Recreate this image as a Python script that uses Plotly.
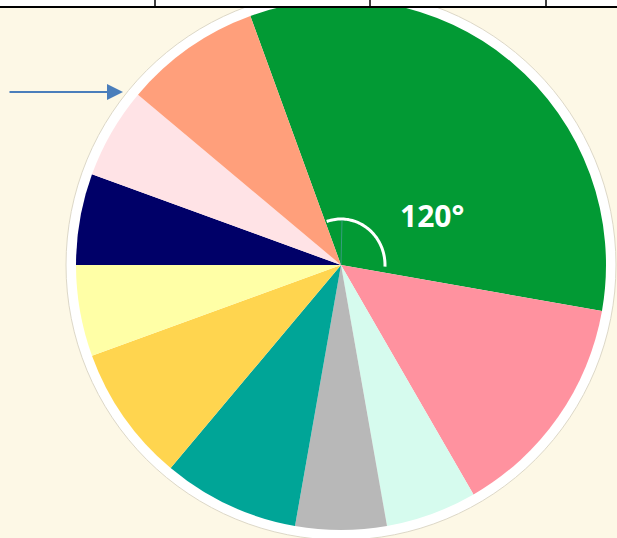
import numpy as np
import plotly.graph_objects as go

W, H = 617, 538

# ---- data ----
categories = ["A", "B", "C", "D", "E", "F", "G", "H", "I", "J"]
degrees = [120, 50, 20, 20, 30, 30, 20, 20, 20, 30]
colors = ["#029A34", "#FF929F", "#D6FBEE", "#B8B8B8", "#00A597",
          "#FFD54F", "#FFFFA6", "#000068", "#FFE3E6", "#FF9F7B"]
angle_label = "120°"

def px(x):
    return x / W

def py(y):
    return 1 - y / H

cx, cy, r = 341, 265, 265

fig = go.Figure()
fig.add_trace(go.Pie(
    labels=categories, values=degrees, sort=False, direction="clockwise",
    rotation=-20, textinfo="none", hoverinfo="label+value",
    marker=dict(colors=colors, line=dict(width=0)),
    domain=dict(x=[px(cx - r), px(cx + r)], y=[py(cy + r), min(1, py(cy - r))]),
    showlegend=False,
))

shapes = []
# white ring behind pie
R2 = r + 10
shapes.append(dict(type="circle", xref="paper", yref="paper", layer="below",
                   x0=px(cx - R2), x1=px(cx + R2), y0=py(cy + R2), y1=py(cy - R2),
                   fillcolor="white", line=dict(color="#ddd8c8", width=1)))

# angle arc
t = np.linspace(np.radians(-19), np.radians(92), 60)
ax_, ay_ = 44, 46
pts = [(cx + ax_ * np.sin(a), cy - ay_ * np.cos(a)) for a in t]
path = "M " + " L ".join(f"{px(x):.5f},{py(y):.5f}" for x, y in pts)
shapes.append(dict(type="path", xref="paper", yref="paper", path=path,
                   line=dict(color="white", width=3), layer="above"))
# thin reference line
shapes.append(dict(type="line", xref="paper", yref="paper", layer="above",
                   x0=px(cx), y0=py(cy), x1=px(cx + 1), y1=py(220), opacity=0.6,
                   line=dict(color="#5a9fb0", width=1)))

# top white strip and table lines
shapes.append(dict(type="rect", xref="paper", yref="paper", layer="above",
                   x0=0, x1=1, y0=py(7), y1=1, fillcolor="white", line=dict(width=0)))
shapes.append(dict(type="line", xref="paper", yref="paper", layer="above",
                   x0=0, x1=1, y0=py(7), y1=py(7), line=dict(color="black", width=2)))
for xv in [155, 370, 546]:
    shapes.append(dict(type="line", xref="paper", yref="paper", layer="above",
                       x0=px(xv), x1=px(xv), y0=py(7), y1=1,
                       line=dict(color="black", width=1.5)))

annotations = [
    dict(x=px(432), y=py(215), xref="paper", yref="paper", text=angle_label,
         xanchor="center", yanchor="middle",
         showarrow=False, font=dict(family="Open Sans", size=30, color="white", weight="bold")),
    dict(x=px(123), y=py(92), xref="paper", yref="paper", text="",
         showarrow=True, ax=-115, ay=0, arrowcolor="#4A7EBB", arrowwidth=2,
         arrowhead=2, arrowsize=1.6),
]

fig.update_layout(
    width=W, height=H, margin=dict(l=0, r=0, t=0, b=0),
    paper_bgcolor="#FDF8E6", plot_bgcolor="#FDF8E6",
    shapes=shapes, annotations=annotations,
)
fig.write_html("out.html", config={"displayModeBar": False},
               post_script="document.body.style.margin='0';document.body.style.padding='0';")
